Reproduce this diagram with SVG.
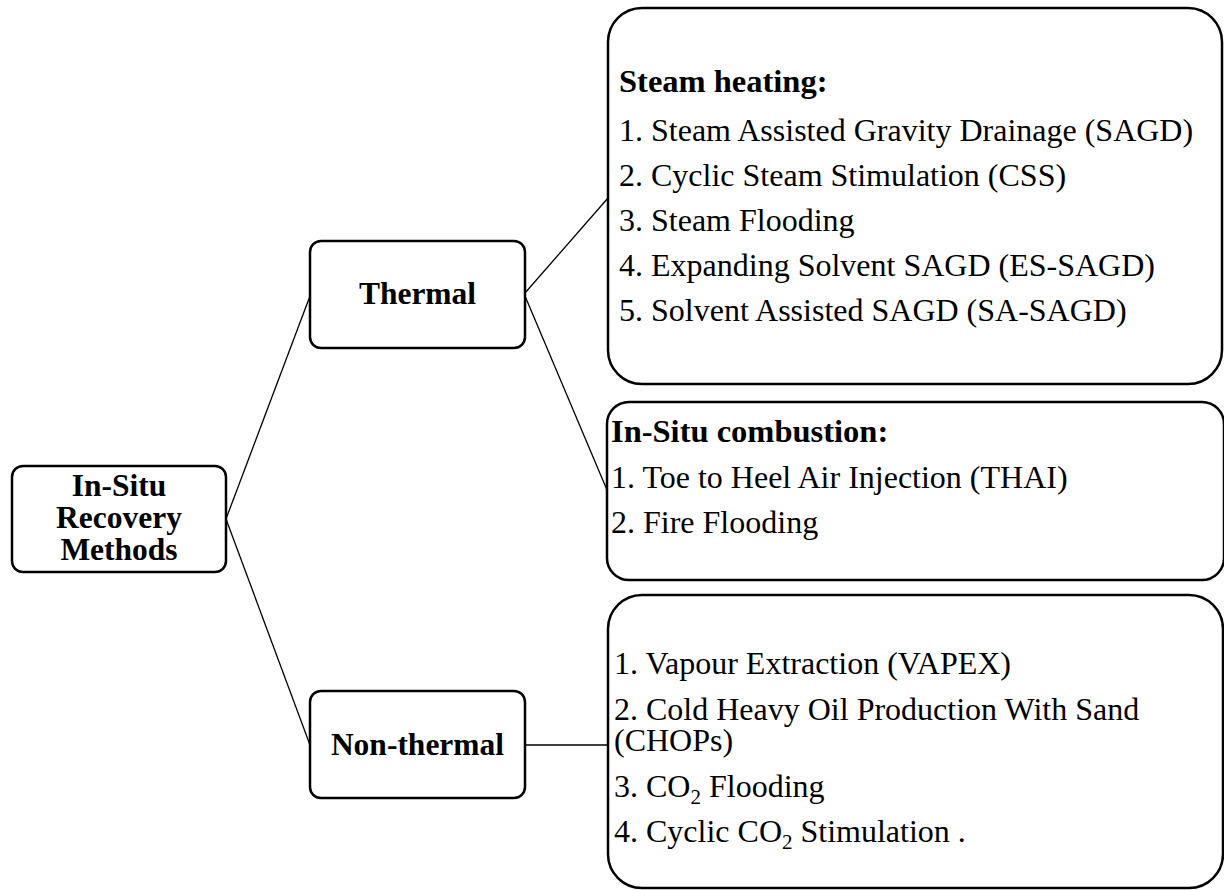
<svg xmlns="http://www.w3.org/2000/svg" width="1224" height="890" viewBox="0 0 1224 890">
<style>
.box{fill:#fff;stroke:#000;stroke-width:2.5}
.conn{stroke:#000;stroke-width:1.3;fill:none}
.b{font-family:"Liberation Serif","Times New Roman",serif;font-weight:bold;font-size:31.5px;fill:#000}
.t{font-family:"Liberation Serif","Times New Roman",serif;font-size:32px;fill:#000}
.h{font-family:"Liberation Serif","Times New Roman",serif;font-weight:bold;font-size:32.5px;fill:#000}
.sub{font-size:21px}
</style>
<rect width="1224" height="890" fill="#fff"/>
<g id="connectors">
<line class="conn" x1="226" y1="519" x2="310" y2="296"/>
<line class="conn" x1="226" y1="519" x2="310" y2="745"/>
<line class="conn" x1="525" y1="293" x2="608" y2="198"/>
<line class="conn" x1="525" y1="296" x2="607" y2="490"/>
<line class="conn" x1="525" y1="745" x2="608" y2="745"/>
</g>
<g id="root">
<rect class="box" x="12" y="466" width="214" height="106" rx="11"/>
<text class="b" x="119" y="496" text-anchor="middle">In-Situ</text>
<text class="b" x="119" y="528" text-anchor="middle">Recovery</text>
<text class="b" x="119" y="560" text-anchor="middle">Methods</text>
</g>
<g id="thermal">
<rect class="box" x="310" y="241" width="215" height="107" rx="11"/>
<text class="b" x="417.5" y="304" text-anchor="middle">Thermal</text>
</g>
<g id="nonthermal">
<rect class="box" x="310" y="691" width="215" height="107" rx="11"/>
<text class="b" x="417.5" y="755" text-anchor="middle">Non-thermal</text>
</g>
<g id="steam">
<rect class="box" x="608" y="8" width="614" height="376" rx="34"/>
<text class="h" x="619" y="92">Steam heating:</text>
<text class="t" x="619" y="141">1. Steam Assisted Gravity Drainage (SAGD)</text>
<text class="t" x="619" y="186">2. Cyclic Steam Stimulation (CSS)</text>
<text class="t" x="619" y="231">3. Steam Flooding</text>
<text class="t" x="619" y="276">4. Expanding Solvent SAGD (ES-SAGD)</text>
<text class="t" x="619" y="321">5. Solvent Assisted SAGD (SA-SAGD)</text>
</g>
<g id="combustion">
<rect class="box" x="607" y="402" width="617" height="178" rx="22"/>
<text class="h" x="611" y="442">In-Situ combustion:</text>
<text class="t" x="611" y="488">1. Toe to Heel Air Injection (THAI)</text>
<text class="t" x="611" y="533">2. Fire Flooding</text>
</g>
<g id="nonthermal-methods">
<rect class="box" x="608" y="595" width="615" height="293" rx="34"/>
<text class="t" x="614" y="674">1. Vapour Extraction (VAPEX)</text>
<text class="t" x="614" y="720">2. Cold Heavy Oil Production With Sand</text>
<text class="t" x="614" y="751">(CHOPs)</text>
<text class="t" x="614" y="797">3. CO<tspan class="sub" dy="7">2</tspan><tspan dy="-7"> Flooding</tspan></text>
<text class="t" x="614" y="842">4. Cyclic CO<tspan class="sub" dy="7">2</tspan><tspan dy="-7"> Stimulation .</tspan></text>
</g>
</svg>
